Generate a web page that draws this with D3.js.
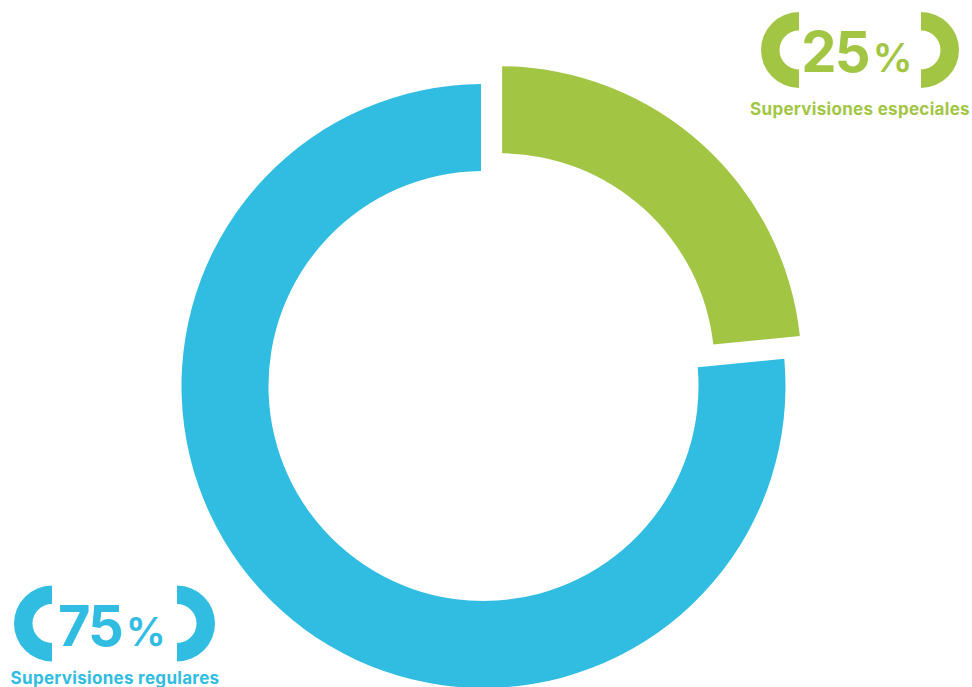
<!DOCTYPE html>
<html>
<head>
<meta charset="utf-8">
<script src="https://cdn.jsdelivr.net/npm/d3@7"></script>
<style>
  html, body { margin: 0; padding: 0; background: #fff; }
  svg { display: block; }
</style>
</head>
<body>
<svg id="chart"></svg>
<script>
// slices as drawn (green wedge ends near 83deg, so the arc share is ~23 even though it is labelled 25%)
const categories = ["Supervisiones especiales", "Supervisiones regulares"];
const shares = [23, 77];
const pctNumbers = ["25", "75"];
const colors = ["#a2c644", "#31bde1"];

const W = 972, H = 687;
const cx = 483.5, cy = 386;
const outerR = 302, innerR = 215;

var svg = d3.select("#chart")
    .attr("width", W)
    .attr("height", H);

var rows = categories.map(function (c, i) {
    return { name: c, value: shares[i], pct: pctNumbers[i], color: colors[i] };
});

var pie = d3.pie()
    .sort(null)
    .value(function (d) { return d.value; })
    .padAngle(0.05);

var arc = d3.arc()
    .innerRadius(innerR)
    .outerRadius(outerR)
    .padRadius(100);

var g = svg.append("g")
    .attr("transform", "translate(" + cx + "," + cy + ")");

g.selectAll("path.slice")
    .data(pie(rows))
    .enter().append("path")
    .attr("class", "slice")
    .attr("fill", function (d) { return d.data.color; })
    .attr("d", arc)
    .attr("transform", function (d, i) {
        // the first (green) slice is pulled out
        if (i != 0) return null;
        var mid = (d.startAngle + d.endAngle) / 2;
        var off = 24;
        return "translate(" + (Math.sin(mid) * off) + "," + (-Math.cos(mid) * off) + ")";
    });

/* bracketed labels */
var bracket = d3.arc().innerRadius(19.5).outerRadius(38);

var labelPos = [
    { x: 860, left: 799, right: 921, cy: 50, sub: 115 },
    { x: 115, left: 52, right: 177, cy: 623.5, sub: 684 }
];

rows.forEach(function (d, i) {
    var p = labelPos[i];
    var lg = svg.append("g").attr("fill", d.color);

    lg.append("path")
        .attr("transform", "translate(" + p.left + "," + p.cy + ")")
        .attr("d", bracket({ startAngle: Math.PI, endAngle: 2 * Math.PI }));
    lg.append("path")
        .attr("transform", "translate(" + p.right + "," + p.cy + ")")
        .attr("d", bracket({ startAngle: 0, endAngle: Math.PI }));

    var t = lg.append("text")
        .attr("x", p.x - 3)
        .attr("y", p.cy + 22)
        .attr("text-anchor", "middle")
        .style("font-family", "Inter, 'Noto Sans', sans-serif")
        .style("font-weight", 700);
    t.append("tspan")
        .style("font-size", "56px")
        .style("letter-spacing", "-2px")
        .text(d.pct);
    t.append("tspan")
        .attr("dx", 4)
        .style("font-size", "40px")
        .style("font-weight", 600)
        .text("%");

    lg.append("text")
        .attr("x", p.x)
        .attr("y", p.sub)
        .attr("text-anchor", "middle")
        .style("font-family", "Inter, 'Noto Sans', sans-serif")
        .style("font-weight", 700)
        .style("font-size", "17px")
        .style("letter-spacing", "0.3px")
        .text(d.name);
});
</script>
</body>
</html>
